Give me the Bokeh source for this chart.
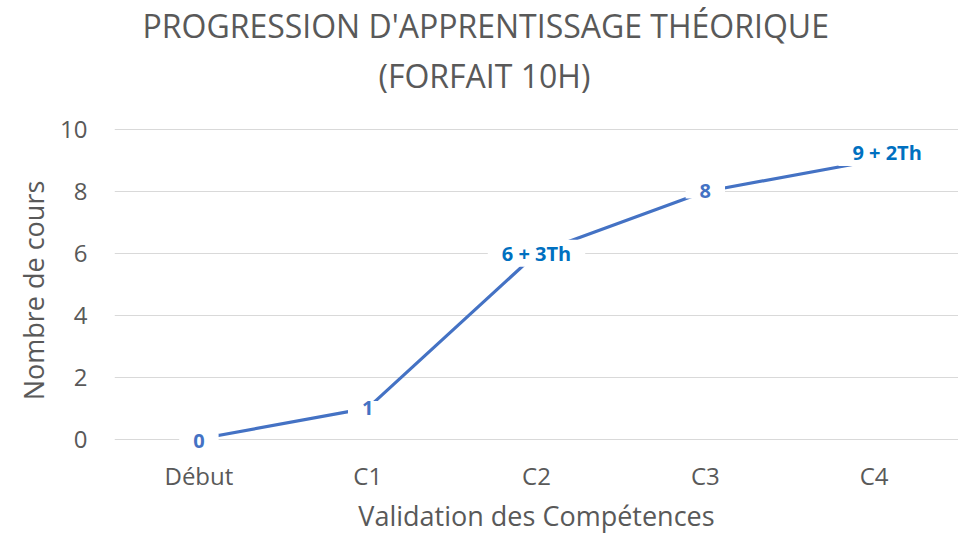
from bokeh.plotting import figure
from bokeh.models import ColumnDataSource, Title, FixedTicker, Range1d, FactorRange
from bokeh.core.properties import value
from bokeh.embed import file_html
from bokeh.resources import INLINE

# ---- data ----
categories = ["Début", "C1", "C2", "C3", "C4"]
values = [0, 1, 6, 8, 9]
labels = ["0", "1", "6 + 3Th", "8", "9 + 2Th"]
y_ticks = [0, 2, 4, 6, 8, 10]
title_lines = ["PROGRESSION D'APPRENTISSAGE THÉORIQUE", "(FORFAIT 10H)"]
x_title = "Validation des Compétences"
y_title = "Nombre de cours"

# ---- styling ----
label_colors = ["#4472C4", "#4472C4", "#0070C0", "#4472C4", "#0070C0"]
label_dx = [0, 0, 0, 0, 13]
label_dy = [2, 0, 0, 0, -8]
FONT = "Open Sans"
GREY = "#595959"

src = ColumnDataSource(dict(cat=categories, val=values, label=labels,
                            color=label_colors, dx=label_dx, dy=label_dy))

p = figure(x_range=FactorRange(*categories), y_range=Range1d(-0.5, 10.1),
           width=958, height=536, output_backend="svg", toolbar_location=None,
           title=None, min_border_left=114, min_border_right=0,
           min_border_top=126, min_border_bottom=82)

# chart title: two lines (the first added sits closest to the plot)
spacer = Title(text=" ", standoff=9, text_font=FONT, text_font_size="10px",
               text_color="white")
t2 = Title(text=title_lines[1], align="left", offset=264, standoff=10,
           text_font=FONT, text_font_size="32px", text_font_style="normal",
           text_color=GREY)
t1 = Title(text=title_lines[0], align="left", offset=28, standoff=0,
           text_font=FONT, text_font_size="32px", text_font_style="normal",
           text_color=GREY)
p.add_layout(spacer, "above")
p.add_layout(t2, "above")
p.add_layout(t1, "above")

p.outline_line_color = None
p.background_fill_color = "white"
p.border_fill_color = "white"
p.xgrid.grid_line_color = None
p.ygrid.grid_line_color = "#d9d9d9"
p.ygrid.grid_line_width = 1

for ax in (p.xaxis, p.yaxis):
    ax.axis_line_color = None
    ax.major_tick_line_color = None
    ax.minor_tick_line_color = None
    ax.major_tick_out = 0
    ax.major_tick_in = 0
    ax.major_label_text_font = FONT
    ax.major_label_text_font_size = "24px"
    ax.major_label_text_color = GREY
    ax.axis_label_text_font = FONT
    ax.axis_label_text_font_size = "27px"
    ax.axis_label_text_font_style = "normal"
    ax.axis_label_text_color = GREY

p.yaxis.ticker = FixedTicker(ticks=y_ticks)
p.yaxis.axis_label = y_title
p.yaxis.major_label_standoff = 27
p.yaxis.axis_label_standoff = 5
p.xaxis.axis_label = x_title
p.xaxis.major_label_standoff = 4
p.xaxis.axis_label_standoff = 2

p.line(x="cat", y="val", source=src, line_color="#4472C4", line_width=3.2)
p.text(x="cat", y="val", text="label", source=src, text_color="color",
       text_font=value(FONT), text_font_style="bold", text_font_size="20px",
       text_align="center", text_baseline="middle", x_offset="dx", y_offset="dy",
       background_fill_color="white", padding=(14, 0))

open("out.html", "w").write(file_html(p, INLINE))
